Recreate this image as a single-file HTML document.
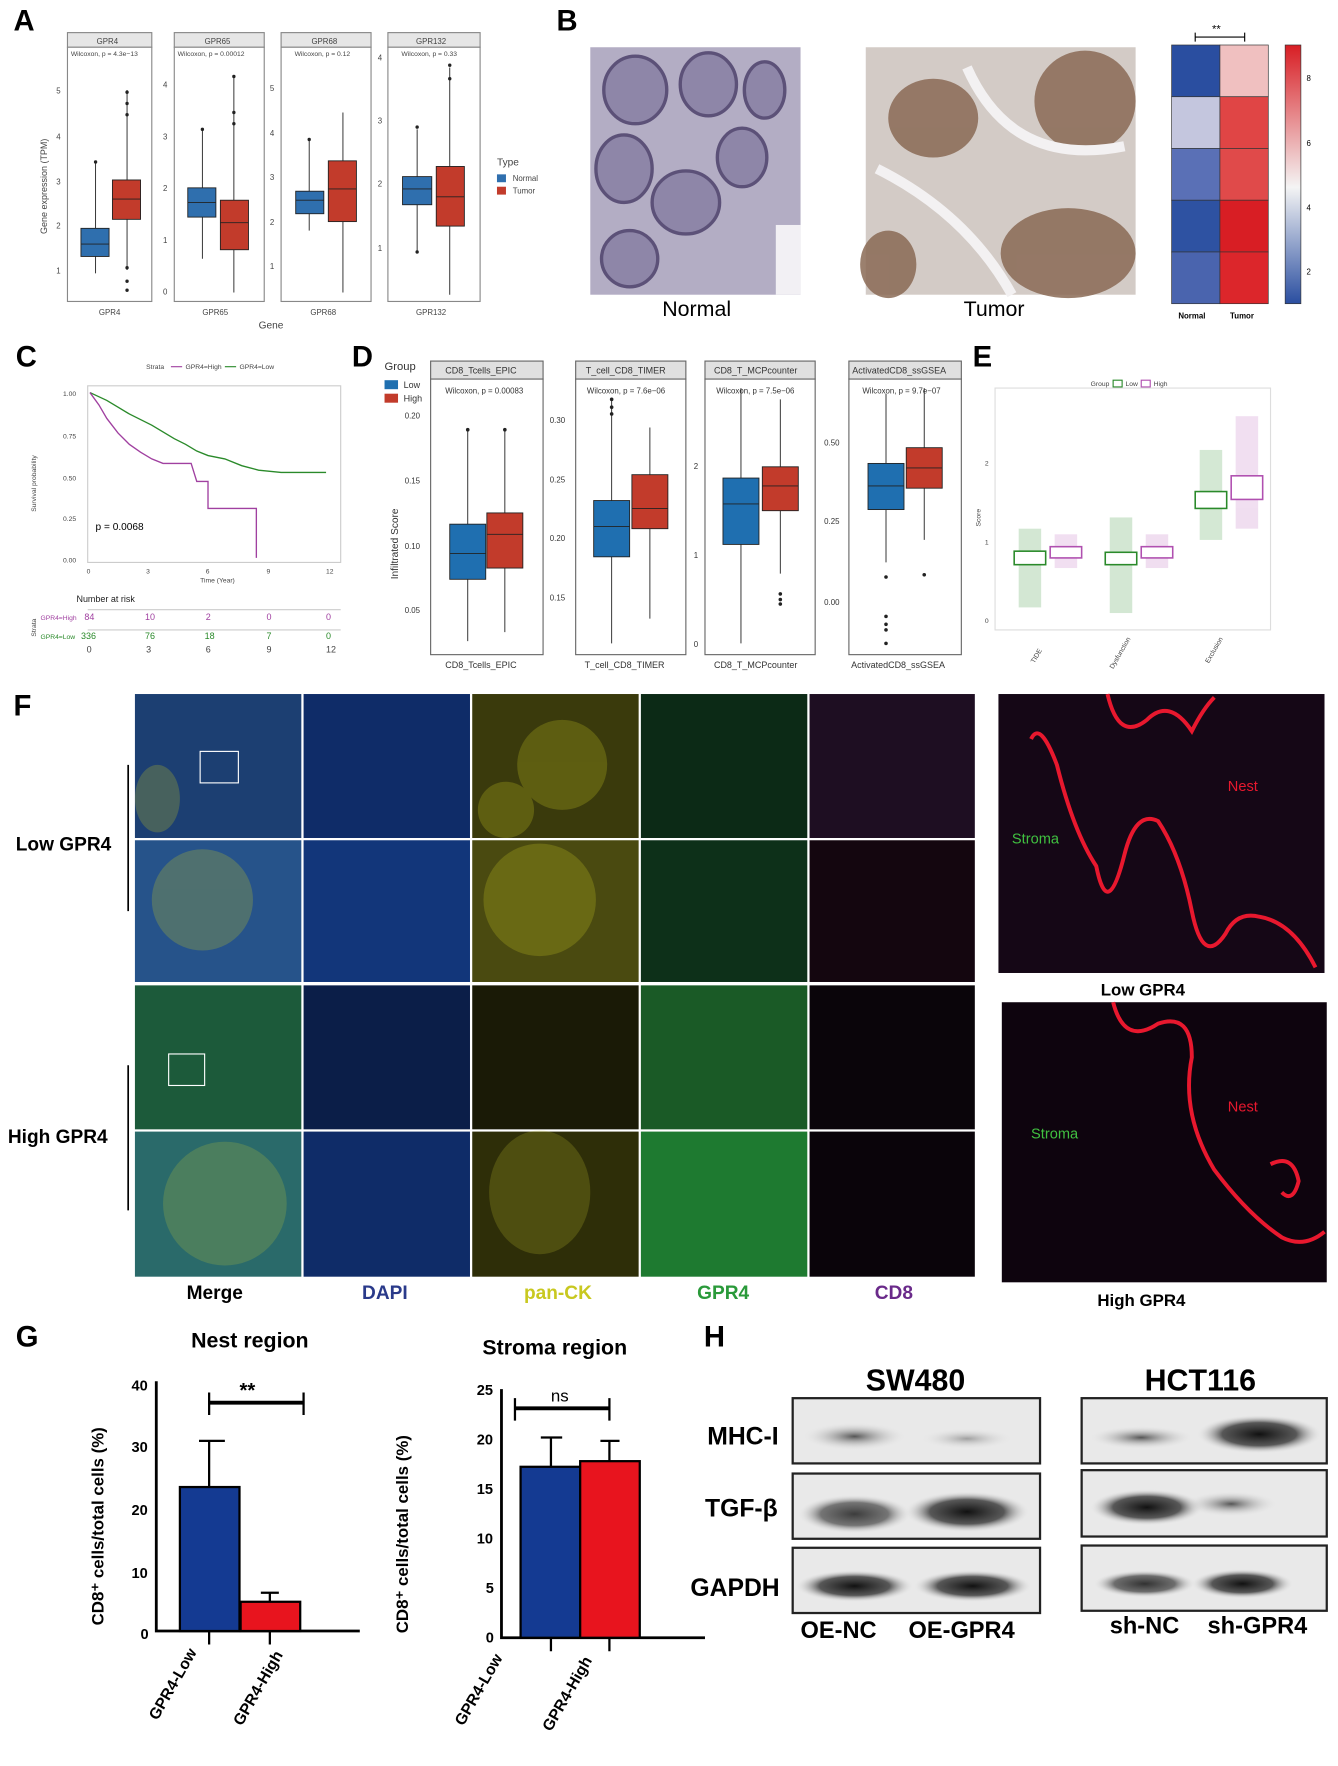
<!DOCTYPE html>
<html><head><meta charset="utf-8"><style>
html,body{margin:0;padding:0;background:#fff}
svg{display:block}
text{font-family:"Liberation Sans",sans-serif}
</style></head><body>
<svg width="1338" height="1766" viewBox="0 0 1190 1570" preserveAspectRatio="none" xmlns="http://www.w3.org/2000/svg">
<defs>
<radialGradient id="band" cx="50%" cy="50%" r="50%"><stop offset="0" stop-color="#111"/><stop offset="0.6" stop-color="#333" stop-opacity="0.8"/><stop offset="1" stop-color="#ddd" stop-opacity="0"/></radialGradient>
<radialGradient id="bandL" cx="50%" cy="50%" r="50%"><stop offset="0" stop-color="#555"/><stop offset="1" stop-color="#ddd" stop-opacity="0"/></radialGradient>
<linearGradient id="cb" x1="0" y1="1" x2="0" y2="0"><stop offset="0" stop-color="#2a4ea0"/><stop offset="0.45" stop-color="#f4f4f4"/><stop offset="1" stop-color="#d81e24"/></linearGradient>
</defs>
<rect width="1190" height="1570" fill="#fff"/>
<g font-weight="bold" font-size="26">
<text x="12" y="27">A</text><text x="495" y="27">B</text><text x="14" y="326">C</text><text x="313" y="326">D</text><text x="865" y="326">E</text><text x="12" y="636">F</text><text x="14" y="1197">G</text><text x="626" y="1197">H</text></g>

<!-- Panel A -->
<g font-size="7" fill="#444">
<g stroke="#888" fill="#fff">
<rect x="60" y="29" width="75" height="13" fill="#e6e6e6"/><rect x="60" y="42" width="75" height="226"/>
<rect x="155" y="29" width="80" height="13" fill="#e6e6e6"/><rect x="155" y="42" width="80" height="226"/>
<rect x="250" y="29" width="80" height="13" fill="#e6e6e6"/><rect x="250" y="42" width="80" height="226"/>
<rect x="345" y="29" width="82" height="13" fill="#e6e6e6"/><rect x="345" y="42" width="82" height="226"/></g>
<text x="86" y="39">GPR4</text><text x="182" y="39">GPR65</text><text x="277" y="39">GPR68</text><text x="370" y="39">GPR132</text>
<text x="63" y="50" font-size="6">Wilcoxon, p = 4.3e−13</text><text x="158" y="50" font-size="6">Wilcoxon, p = 0.00012</text><text x="262" y="50" font-size="6">Wilcoxon, p = 0.12</text><text x="357" y="50" font-size="6">Wilcoxon, p = 0.33</text>
<text x="50" y="243">1</text><text x="50" y="203">2</text><text x="50" y="164">3</text><text x="50" y="124">4</text><text x="50" y="83">5</text>
<text x="145" y="262">0</text><text x="145" y="216">1</text><text x="145" y="170">2</text><text x="145" y="124">3</text><text x="145" y="78">4</text>
<text x="240" y="239">1</text><text x="240" y="200">2</text><text x="240" y="160">3</text><text x="240" y="121">4</text><text x="240" y="81">5</text>
<text x="336" y="223">1</text><text x="336" y="166">2</text><text x="336" y="110">3</text><text x="336" y="54">4</text>
<text x="88" y="280">GPR4</text><text x="180" y="280">GPR65</text><text x="276" y="280">GPR68</text><text x="370" y="280">GPR132</text>
<text x="230" y="292" font-size="9">Gene</text>
<text x="42" y="208" font-size="8" transform="rotate(-90 42 208)">Gene expression (TPM)</text>
<text x="442" y="147" font-size="9">Type</text>
<rect x="442" y="155" width="8" height="7" fill="#2f6fae"/><text x="456" y="161">Normal</text>
<rect x="442" y="166" width="8" height="7" fill="#c23b2b"/><text x="456" y="172">Tumor</text>
</g>
<g stroke="#222" stroke-width="0.8">
<line x1="85" y1="145" x2="85" y2="243"/><rect x="72" y="203" width="25" height="25" fill="#2f6fae"/><line x1="72" y1="217" x2="97" y2="217"/>
<line x1="113" y1="80" x2="113" y2="240"/><rect x="100" y="160" width="25" height="35" fill="#c23b2b"/><line x1="100" y1="177" x2="125" y2="177"/>
<line x1="180" y1="115" x2="180" y2="230"/><rect x="167" y="167" width="25" height="26" fill="#2f6fae"/><line x1="167" y1="180" x2="192" y2="180"/>
<line x1="208" y1="68" x2="208" y2="260"/><rect x="196" y="178" width="25" height="44" fill="#c23b2b"/><line x1="196" y1="198" x2="221" y2="198"/>
<line x1="275" y1="125" x2="275" y2="205"/><rect x="263" y="170" width="25" height="20" fill="#2f6fae"/><line x1="263" y1="178" x2="288" y2="178"/>
<line x1="305" y1="100" x2="305" y2="260"/><rect x="292" y="143" width="25" height="54" fill="#c23b2b"/><line x1="292" y1="168" x2="317" y2="168"/>
<line x1="371" y1="115" x2="371" y2="225"/><rect x="358" y="157" width="26" height="25" fill="#2f6fae"/><line x1="358" y1="168" x2="384" y2="168"/>
<line x1="400" y1="60" x2="400" y2="262"/><rect x="388" y="148" width="25" height="53" fill="#c23b2b"/><line x1="388" y1="175" x2="413" y2="175"/>
</g>
<g fill="#222"><circle cx="113" cy="82" r="1.5"/><circle cx="113" cy="92" r="1.5"/><circle cx="113" cy="102" r="1.5"/><circle cx="113" cy="238" r="1.5"/><circle cx="113" cy="250" r="1.5"/><circle cx="113" cy="258" r="1.5"/><circle cx="85" cy="144" r="1.5"/><circle cx="180" cy="115" r="1.5"/><circle cx="208" cy="68" r="1.5"/><circle cx="208" cy="100" r="1.5"/><circle cx="208" cy="110" r="1.5"/><circle cx="275" cy="124" r="1.5"/><circle cx="371" cy="113" r="1.5"/><circle cx="371" cy="224" r="1.5"/><circle cx="400" cy="58" r="1.5"/><circle cx="400" cy="70" r="1.5"/></g>

<!-- Panel B -->
<rect x="525" y="42" width="187" height="220" fill="#b3adc4"/>
<g fill="#8e86a8" stroke="#5c5178" stroke-width="3">
<ellipse cx="565" cy="80" rx="28" ry="30"/><ellipse cx="630" cy="75" rx="25" ry="28"/><ellipse cx="555" cy="150" rx="25" ry="30"/><ellipse cx="610" cy="180" rx="30" ry="28"/><ellipse cx="660" cy="140" rx="22" ry="26"/><ellipse cx="560" cy="230" rx="25" ry="25"/><ellipse cx="680" cy="80" rx="18" ry="25"/></g>
<rect x="690" y="200" width="22" height="62" fill="#f2f0f4"/>
<rect x="770" y="42" width="240" height="220" fill="#d3cbc6"/>
<g fill="#8a6a55" opacity="0.85"><ellipse cx="830" cy="105" rx="40" ry="35"/><ellipse cx="965" cy="90" rx="45" ry="45"/><ellipse cx="950" cy="225" rx="60" ry="40"/><ellipse cx="790" cy="235" rx="25" ry="30"/></g>
<g stroke="#f3f1f2" stroke-width="9" fill="none"><path d="M860 60 Q900 150 1000 130"/><path d="M780 150 Q860 190 900 262"/></g>
<text x="589" y="281" font-size="19">Normal</text><text x="857" y="281" font-size="19">Tumor</text>
<g stroke="#333" stroke-width="0.6">
<rect x="1042" y="40" width="43" height="46" fill="#2a4ea0"/><rect x="1085" y="40" width="43" height="46" fill="#f0c0c0"/>
<rect x="1042" y="86" width="43" height="46" fill="#c4c6de"/><rect x="1085" y="86" width="43" height="46" fill="#e04545"/>
<rect x="1042" y="132" width="43" height="46" fill="#5a70b6"/><rect x="1085" y="132" width="43" height="46" fill="#e04a4a"/>
<rect x="1042" y="178" width="43" height="46" fill="#2e52a2"/><rect x="1085" y="178" width="43" height="46" fill="#d81e24"/>
<rect x="1042" y="224" width="43" height="46" fill="#4a64ae"/><rect x="1085" y="224" width="43" height="46" fill="#dc262b"/>
<rect x="1143" y="40" width="14" height="230" fill="url(#cb)"/></g>
<path d="M1063 33 L1107 33 M1063 29 L1063 37 M1107 29 L1107 37" stroke="#000"/><text x="1078" y="29" font-size="10">**</text>
<g font-size="7"><text x="1048" y="283" font-weight="bold">Normal</text><text x="1094" y="283" font-weight="bold">Tumor</text>
<text x="1162" y="72">8</text><text x="1162" y="130">6</text><text x="1162" y="187">4</text><text x="1162" y="244">2</text></g>

<!-- Panel C -->
<g font-size="6" fill="#444">
<text x="130" y="328">Strata</text><line x1="152" y1="326" x2="162" y2="326" stroke="#a040a0"/><text x="165" y="328">GPR4=High</text><line x1="200" y1="326" x2="210" y2="326" stroke="#2a8a2a"/><text x="213" y="328">GPR4=Low</text>
<text x="56" y="352">1.00</text><text x="56" y="390">0.75</text><text x="56" y="427">0.50</text><text x="56" y="463">0.25</text><text x="56" y="500">0.00</text>
<text x="77" y="510">0</text><text x="130" y="510">3</text><text x="183" y="510">6</text><text x="237" y="510">9</text><text x="290" y="510">12</text>
<text x="178" y="518">Time (Year)</text>
<text x="32" y="455" transform="rotate(-90 32 455)">Survival probability</text>
<text x="68" y="535" font-size="8" fill="#222">Number at risk</text>
<text x="32" y="566" transform="rotate(-90 32 566)">Strata</text>
<text x="36" y="551" fill="#a040a0">GPR4=High</text><text x="36" y="568" fill="#2a8a2a">GPR4=Low</text>
<g font-size="8"><text x="75" y="551" fill="#a040a0">84</text><text x="129" y="551" fill="#a040a0">10</text><text x="183" y="551" fill="#a040a0">2</text><text x="237" y="551" fill="#a040a0">0</text><text x="290" y="551" fill="#a040a0">0</text>
<text x="72" y="568" fill="#2a8a2a">336</text><text x="129" y="568" fill="#2a8a2a">76</text><text x="182" y="568" fill="#2a8a2a">18</text><text x="237" y="568" fill="#2a8a2a">7</text><text x="290" y="568" fill="#2a8a2a">0</text>
<text x="77" y="580">0</text><text x="130" y="580">3</text><text x="183" y="580">6</text><text x="237" y="580">9</text><text x="290" y="580">12</text></g>
</g>
<rect x="78" y="343" width="225" height="157" fill="#fff" stroke="#ccc"/>
<line x1="78" y1="542" x2="303" y2="542" stroke="#ccc"/><line x1="78" y1="560" x2="303" y2="560" stroke="#ccc"/>
<polyline fill="none" stroke="#2a8a2a" stroke-width="1.2" points="80,349 95,356 105,362 115,368 125,373 135,378 145,384 155,390 165,395 175,401 185,405 200,408 215,414 230,418 250,420 290,420"/>
<polyline fill="none" stroke="#a040a0" stroke-width="1.2" points="80,349 88,360 95,372 105,385 115,395 125,402 135,408 145,412 170,412 175,428 185,428 185,452 228,452 228,496"/>
<text x="85" y="471" font-size="9">p = 0.0068</text>

<!-- Panel D -->
<g font-size="7" fill="#333">
<text x="342" y="329" font-size="10">Group</text>
<rect x="342" y="338" width="12" height="8" fill="#1f6fb0"/><text x="359" y="345" font-size="8">Low</text>
<rect x="342" y="350" width="12" height="8" fill="#c23b2b"/><text x="359" y="357" font-size="8">High</text>
<g stroke="#666" fill="#fff">
<rect x="383" y="321" width="100" height="16" fill="#e0e0e0"/><rect x="383" y="337" width="100" height="245"/>
<rect x="512" y="321" width="98" height="16" fill="#e0e0e0"/><rect x="512" y="337" width="98" height="245"/>
<rect x="627" y="321" width="98" height="16" fill="#e0e0e0"/><rect x="627" y="337" width="98" height="245"/>
<rect x="755" y="321" width="100" height="16" fill="#e0e0e0"/><rect x="755" y="337" width="100" height="245"/></g>
<text x="396" y="332" font-size="8">CD8_Tcells_EPIC</text><text x="521" y="332" font-size="8">T_cell_CD8_TIMER</text><text x="635" y="332" font-size="8">CD8_T_MCPcounter</text><text x="758" y="332" font-size="8">ActivatedCD8_ssGSEA</text>
<text x="396" y="350">Wilcoxon, p = 0.00083</text><text x="522" y="350">Wilcoxon, p = 7.6e−06</text><text x="637" y="350">Wilcoxon, p = 7.5e−06</text><text x="767" y="350">Wilcoxon, p = 9.7e−07</text>
<text x="360" y="372">0.20</text><text x="360" y="430">0.15</text><text x="360" y="488">0.10</text><text x="360" y="545">0.05</text>
<text x="489" y="376">0.30</text><text x="489" y="429">0.25</text><text x="489" y="481">0.20</text><text x="489" y="534">0.15</text>
<text x="617" y="417">2</text><text x="617" y="496">1</text><text x="617" y="575">0</text>
<text x="733" y="396">0.50</text><text x="733" y="466">0.25</text><text x="733" y="538">0.00</text>
<text x="396" y="594" font-size="8">CD8_Tcells_EPIC</text><text x="520" y="594" font-size="8">T_cell_CD8_TIMER</text><text x="635" y="594" font-size="8">CD8_T_MCPcounter</text><text x="757" y="594" font-size="8">ActivatedCD8_ssGSEA</text>
<text x="354" y="515" font-size="9" transform="rotate(-90 354 515)">Infiltrated Score</text>
</g>
<g stroke="#222" stroke-width="0.8">
<line x1="416" y1="383" x2="416" y2="570"/><rect x="400" y="466" width="32" height="49" fill="#1f6fb0"/><line x1="400" y1="492" x2="432" y2="492"/>
<line x1="449" y1="383" x2="449" y2="562"/><rect x="433" y="456" width="32" height="49" fill="#c23b2b"/><line x1="433" y1="475" x2="465" y2="475"/>
<line x1="544" y1="355" x2="544" y2="572"/><rect x="528" y="445" width="32" height="50" fill="#1f6fb0"/><line x1="528" y1="468" x2="560" y2="468"/>
<line x1="578" y1="380" x2="578" y2="550"/><rect x="562" y="422" width="32" height="48" fill="#c23b2b"/><line x1="562" y1="452" x2="594" y2="452"/>
<line x1="659" y1="345" x2="659" y2="572"/><rect x="643" y="425" width="32" height="59" fill="#1f6fb0"/><line x1="643" y1="448" x2="675" y2="448"/>
<line x1="694" y1="355" x2="694" y2="510"/><rect x="678" y="415" width="32" height="39" fill="#c23b2b"/><line x1="678" y1="432" x2="710" y2="432"/>
<line x1="788" y1="350" x2="788" y2="500"/><rect x="772" y="412" width="32" height="41" fill="#1f6fb0"/><line x1="772" y1="432" x2="804" y2="432"/>
<line x1="822" y1="345" x2="822" y2="480"/><rect x="806" y="398" width="32" height="36" fill="#c23b2b"/><line x1="806" y1="416" x2="838" y2="416"/>
</g>
<g fill="#222"><circle cx="416" cy="382" r="1.6"/><circle cx="449" cy="382" r="1.6"/><circle cx="544" cy="355" r="1.6"/><circle cx="544" cy="362" r="1.6"/><circle cx="544" cy="368" r="1.6"/><circle cx="694" cy="528" r="1.6"/><circle cx="694" cy="533" r="1.6"/><circle cx="694" cy="537" r="1.6"/><circle cx="788" cy="513" r="1.6"/><circle cx="788" cy="548" r="1.6"/><circle cx="788" cy="555" r="1.6"/><circle cx="788" cy="560" r="1.6"/><circle cx="788" cy="572" r="1.6"/><circle cx="822" cy="511" r="1.6"/></g>

<!-- Panel E -->
<g font-size="6" fill="#444">
<text x="970" y="343">Group</text><rect x="990" y="338" width="8" height="6" fill="none" stroke="#2a8a2a"/><text x="1001" y="343">Low</text><rect x="1015" y="338" width="8" height="6" fill="none" stroke="#b050b0"/><text x="1026" y="343">High</text>
<text x="876" y="414">2</text><text x="876" y="484">1</text><text x="876" y="554">0</text>
<text x="872" y="468" transform="rotate(-90 872 468)">Score</text>
<text x="925" y="368">***</text><text x="1008" y="368">***</text><text x="1088" y="368">***</text>
<text x="920" y="590" transform="rotate(-60 920 590)">TIDE</text><text x="990" y="595" transform="rotate(-60 990 595)">Dysfunction</text><text x="1075" y="590" transform="rotate(-60 1075 590)">Exclusion</text>
</g>
<rect x="885" y="345" width="245" height="215" fill="#fff" stroke="#ddd"/>
<g fill="#2a8a2a" opacity="0.2"><rect x="906" y="470" width="20" height="70"/><rect x="987" y="460" width="20" height="85"/><rect x="1067" y="400" width="20" height="80"/></g>
<g fill="#b050b0" opacity="0.18"><rect x="938" y="475" width="20" height="30"/><rect x="1019" y="475" width="20" height="30"/><rect x="1099" y="370" width="20" height="100"/></g>
<g fill="#fff" stroke-width="1.4">
<rect x="902" y="490" width="28" height="12" stroke="#2a8a2a"/><rect x="934" y="486" width="28" height="10" stroke="#b050b0"/>
<rect x="983" y="491" width="28" height="11" stroke="#2a8a2a"/><rect x="1015" y="486" width="28" height="10" stroke="#b050b0"/>
<rect x="1063" y="437" width="28" height="15" stroke="#2a8a2a"/><rect x="1095" y="423" width="28" height="21" stroke="#b050b0"/></g>

<!-- Panel F -->
<rect x="120" y="617" width="747" height="518" fill="#fff"/>
<g>
<rect x="120" y="617" width="148" height="128" fill="#1c3f72"/><rect x="270" y="617" width="148" height="128" fill="#0f2c68"/><rect x="420" y="617" width="148" height="128" fill="#3a3a0c"/><rect x="570" y="617" width="148" height="128" fill="#0c2a16"/><rect x="720" y="617" width="147" height="128" fill="#1e0e22"/>
<rect x="120" y="747" width="148" height="126" fill="#26538a"/><rect x="270" y="747" width="148" height="126" fill="#12367a"/><rect x="420" y="747" width="148" height="126" fill="#4a4a10"/><rect x="570" y="747" width="148" height="126" fill="#0d3019"/><rect x="720" y="747" width="147" height="126" fill="#14060f"/>
<rect x="120" y="876" width="148" height="128" fill="#1c5a3a"/><rect x="270" y="876" width="148" height="128" fill="#0b1e48"/><rect x="420" y="876" width="148" height="128" fill="#1a1a06"/><rect x="570" y="876" width="148" height="128" fill="#1a5a26"/><rect x="720" y="876" width="147" height="128" fill="#0a050a"/>
<rect x="120" y="1006" width="148" height="129" fill="#2a6a6a"/><rect x="270" y="1006" width="148" height="129" fill="#0f2c68"/><rect x="420" y="1006" width="148" height="129" fill="#2e2e08"/><rect x="570" y="1006" width="148" height="129" fill="#1e7a30"/><rect x="720" y="1006" width="147" height="129" fill="#0a040a"/>
</g>
<g fill="#c8c820" opacity="0.25"><ellipse cx="140" cy="710" rx="20" ry="30"/><ellipse cx="450" cy="720" rx="25" ry="25"/><ellipse cx="500" cy="680" rx="40" ry="40"/><ellipse cx="180" cy="800" rx="45" ry="45"/><ellipse cx="480" cy="800" rx="50" ry="50"/></g>
<g fill="#d0d030" opacity="0.2"><ellipse cx="200" cy="1070" rx="55" ry="55"/><ellipse cx="480" cy="1060" rx="45" ry="55"/></g>
<rect x="178" y="668" width="34" height="28" fill="none" stroke="#fff"/><rect x="150" y="937" width="32" height="28" fill="none" stroke="#fff"/>
<line x1="114" y1="680" x2="114" y2="810" stroke="#000" stroke-width="1.5"/><line x1="114" y1="947" x2="114" y2="1076" stroke="#000" stroke-width="1.5"/>
<text x="14" y="756" font-size="17" font-weight="bold">Low GPR4</text><text x="7" y="1016" font-size="17" font-weight="bold">High GPR4</text>
<g font-size="17" font-weight="bold"><text x="166" y="1155">Merge</text><text x="322" y="1155" fill="#2a3a8a">DAPI</text><text x="466" y="1155" fill="#c8c820">pan-CK</text><text x="620" y="1155" fill="#2a9a3a">GPR4</text><text x="778" y="1155" fill="#6a2a8a">CD8</text></g>
<rect x="888" y="617" width="290" height="248" fill="#150716"/>
<rect x="891" y="891" width="289" height="249" fill="#0e040e"/>
<g fill="none" stroke="#e8182e" stroke-width="3.5">
<path d="M917 657 Q925 640 940 680 Q955 740 975 770 Q985 820 1000 760 Q1010 720 1030 730 Q1050 760 1060 810 Q1070 860 1090 830 Q1100 810 1120 815 Q1150 820 1170 860"/>
<path d="M985 617 Q995 660 1020 640 Q1040 620 1060 650 Q1070 630 1080 620"/>
<path d="M990 891 Q1000 930 1030 910 Q1060 900 1060 940 Q1050 990 1080 1040 Q1110 1080 1140 1100 Q1160 1110 1178 1095"/>
<path d="M1130 1035 Q1150 1025 1155 1050 Q1150 1070 1140 1060"/></g>
<g font-family="Liberation Serif" font-size="13"><text x="1092" y="703" fill="#e8182e">Nest</text><text x="900" y="750" fill="#40c040">Stroma</text><text x="1092" y="988" fill="#e8182e">Nest</text><text x="917" y="1012" fill="#40c040">Stroma</text></g>
<text x="979" y="885" font-size="15" font-weight="bold">Low GPR4</text><text x="976" y="1161" font-size="15" font-weight="bold">High GPR4</text>

<!-- Panel G -->
<g font-weight="bold"><text x="170" y="1198" font-size="19">Nest region</text><text x="429" y="1204" font-size="19">Stroma region</text></g>
<g stroke="#000" stroke-width="2.5" fill="none"><path d="M139 1228 L139 1450 L320 1450"/><path d="M446 1235 L446 1456 L627 1456"/></g>
<g font-size="13" font-weight="bold">
<text x="117" y="1236">40</text><text x="117" y="1347">20</text><text x="117" y="1403">10</text><text x="117" y="1291">30</text><text x="125" y="1457">0</text>
<text x="424" y="1240">25</text><text x="424" y="1284">20</text><text x="424" y="1328">15</text><text x="424" y="1372">10</text><text x="432" y="1416">5</text><text x="432" y="1460">0</text>
<text x="92" y="1445" font-size="15" transform="rotate(-90 92 1445)">CD8⁺ cells/total cells (%)</text>
<text x="363" y="1452" font-size="15" transform="rotate(-90 363 1452)">CD8⁺ cells/total cells (%)</text>
<text x="140" y="1530" font-size="14" transform="rotate(-60 140 1530)">GPR4-Low</text><text x="215" y="1535" font-size="14" transform="rotate(-60 215 1535)">GPR4-High</text>
<text x="412" y="1535" font-size="14" transform="rotate(-60 412 1535)">GPR4-Low</text><text x="490" y="1540" font-size="14" transform="rotate(-60 490 1540)">GPR4-High</text>
</g>
<g stroke="#000" stroke-width="2">
<rect x="160" y="1322" width="53" height="128" fill="#143a92"/><rect x="214" y="1424" width="53" height="26" fill="#e8141e"/>
<rect x="463" y="1304" width="53" height="152" fill="#143a92"/><rect x="516" y="1299" width="53" height="157" fill="#e8141e"/>
<path d="M186 1322 L186 1281 M177 1281 L200 1281 M240 1424 L240 1416 M232 1416 L248 1416 M490 1304 L490 1278 M481 1278 L500 1278 M542 1299 L542 1281 M534 1281 L551 1281" fill="none"/>
<path d="M186 1450 L186 1462 M240 1450 L240 1462 M490 1456 L490 1468 M542 1456 L542 1468"/></g>
<g stroke="#000" stroke-width="3.5"><path d="M186 1247 L270 1247"/><path d="M458 1252 L542 1252"/></g>
<g stroke="#000" stroke-width="2"><path d="M186 1238 L186 1258 M270 1238 L270 1258 M458 1243 L458 1263 M542 1243 L542 1263"/></g>
<text x="213" y="1242" font-size="18" font-weight="bold">**</text><text x="490" y="1246" font-size="15">ns</text>

<!-- Panel H -->
<g font-weight="bold"><text x="770" y="1236" font-size="27">SW480</text><text x="1018" y="1236" font-size="27">HCT116</text>
<text x="629" y="1284" font-size="22">MHC-I</text><text x="627" y="1348" font-size="22">TGF-β</text><text x="614" y="1419" font-size="22">GAPDH</text>
<text x="712" y="1456" font-size="21">OE-NC</text><text x="808" y="1456" font-size="21">OE-GPR4</text><text x="987" y="1452" font-size="21">sh-NC</text><text x="1074" y="1452" font-size="21">sh-GPR4</text></g>
<g stroke="#222" stroke-width="2" fill="#e9e9e9">
<rect x="705" y="1243" width="220" height="58"/><rect x="705" y="1310" width="220" height="58"/><rect x="705" y="1376" width="220" height="58"/>
<rect x="962" y="1243" width="218" height="58"/><rect x="962" y="1307" width="218" height="59"/><rect x="962" y="1374" width="218" height="58"/></g>
<g>
<ellipse cx="760" cy="1277" rx="45" ry="12" fill="url(#bandL)"/><ellipse cx="860" cy="1279" rx="40" ry="9" fill="url(#bandL)" opacity="0.5"/>
<ellipse cx="760" cy="1346" rx="50" ry="17" fill="url(#band)" opacity="0.8"/><ellipse cx="860" cy="1344" rx="55" ry="18" fill="url(#band)"/>
<ellipse cx="760" cy="1410" rx="52" ry="14" fill="url(#band)"/><ellipse cx="865" cy="1410" rx="52" ry="14" fill="url(#band)"/>
<ellipse cx="1015" cy="1278" rx="45" ry="10" fill="url(#bandL)"/><ellipse cx="1120" cy="1275" rx="55" ry="17" fill="url(#band)"/>
<ellipse cx="1020" cy="1340" rx="50" ry="16" fill="url(#band)"/><ellipse cx="1095" cy="1337" rx="40" ry="11" fill="url(#bandL)"/>
<ellipse cx="1018" cy="1408" rx="45" ry="12" fill="url(#band)" opacity="0.85"/><ellipse cx="1105" cy="1408" rx="45" ry="13" fill="url(#band)"/>
</g>
</svg>
</body></html>
